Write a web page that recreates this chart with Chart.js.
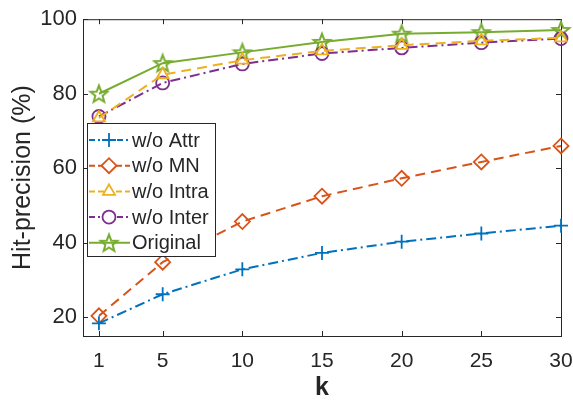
<!DOCTYPE html>
<html>
<head>
<meta charset="utf-8">
<script src="https://cdn.jsdelivr.net/npm/chart.js@4.4.1/dist/chart.umd.min.js"></script>
<style>
  html, body { margin: 0; padding: 0; background: #fff; }
  #wrap { width: 573px; height: 405px; }
</style>
</head>
<body>
<div id="wrap"><canvas id="grafico" width="573" height="405"></canvas></div>
<script>
// datos
const valoresK = [1, 5, 10, 15, 20, 25, 30];
const ticksX = [1, 5, 10, 15, 20, 25, 30];
const ticksY = [20, 40, 60, 80, 100];

const woAttr  = [18.4, 26.2, 32.9, 37.3, 40.3, 42.5, 44.6];
const woMN    = [20.4, 34.8, 45.7, 52.5, 57.3, 61.7, 66.0];
const woIntra = [73.5, 85.1, 89.0, 91.5, 93.0, 94.2, 95.0];
const woInter = [73.9, 82.9, 88.0, 90.8, 92.3, 93.7, 94.8];
const original = [80.0, 88.2, 91.1, 93.9, 96.1, 96.5, 97.1];

const colorEje = "#262626";

// estrella de 5 puntas (pentagram de matlab)
const HacerEstrella = (color) => {
  const c = document.createElement("canvas");
  c.width = 22; c.height = 22;
  const ctx = c.getContext("2d");
  ctx.strokeStyle = color;
  ctx.lineWidth = 2;
  ctx.lineJoin = "miter";
  ctx.beginPath();
  for (let i = 0; i < 10; i++) {
    const r = i % 2 === 0 ? 9 : 3.8;
    const a = -Math.PI / 2 + i * Math.PI / 5;
    const x = 11 + r * Math.cos(a);
    const y = 11.8 + r * Math.sin(a);
    if (i === 0) ctx.moveTo(x, y); else ctx.lineTo(x, y);
  }
  ctx.closePath();
  ctx.stroke();
  return c;
};

const puntos = (arr) => arr.map((v, i) => ({ x: valoresK[i], y: v }));

const serie = (label, data, color, dash, estilo, radio) => ({
  label: label,
  data: puntos(data),
  borderColor: color,
  backgroundColor: "rgba(0,0,0,0)",
  borderWidth: 2,
  borderDash: dash,
  pointStyle: estilo,
  pointRadius: radio,
  pointBorderWidth: 1.8,
  pointBorderColor: color,
  pointBackgroundColor: "rgba(0,0,0,0)",
  tension: 0,
  clip: false,
});

const datasets = [
  serie("w/o Attr", woAttr, "#0072BD", [10, 4, 2, 4], "cross", 7),
  serie("w/o MN", woMN, "#D95319", [10, 6], "rectRot", 7.5),
  serie("w/o Intra", woIntra, "#EDB120", [10, 6], "triangle", 7),
  serie("w/o Inter", woInter, "#7E2F8E", [10, 4, 2, 4], "circle", 6.5),
  serie("Original", original, "#77AC30", [], HacerEstrella("#77AC30"), 8),
];

// marco con ticks hacia adentro, como en matlab
const marco = {
  id: "marco",
  beforeDatasetsDraw(chart) {
    const { ctx, chartArea: a, scales } = chart;
    const largo = 5;
    ctx.save();
    ctx.strokeStyle = colorEje;
    ctx.lineWidth = 1;
    ctx.strokeRect(a.left + 0.5, a.top + 0.5, a.right - a.left, a.bottom - a.top);
    ctx.beginPath();
    ticksX.forEach((v) => {
      const x = Math.round(scales.x.getPixelForValue(v)) + 0.5;
      ctx.moveTo(x, a.bottom); ctx.lineTo(x, a.bottom - largo);
      ctx.moveTo(x, a.top); ctx.lineTo(x, a.top + largo);
    });
    ticksY.forEach((v) => {
      const y = Math.round(scales.y.getPixelForValue(v)) + 0.5;
      ctx.moveTo(a.left, y); ctx.lineTo(a.left + largo, y);
      ctx.moveTo(a.right, y); ctx.lineTo(a.right - largo, y);
    });
    ctx.stroke();
    ctx.restore();
  },
};

// leyenda dentro del area, a la izquierda
const leyenda = {
  id: "leyenda",
  afterDatasetsDraw(chart) {
    const { ctx, chartArea: a } = chart;
    const x0 = a.left + 4, y0 = 123, ancho = 128, alto = 133;
    const fila = 25.7;
    ctx.save();
    ctx.fillStyle = "#fff";
    ctx.fillRect(x0, y0, ancho, alto);
    ctx.strokeStyle = colorEje;
    ctx.lineWidth = 1;
    ctx.strokeRect(x0 + 0.5, y0 + 0.5, ancho, alto);
    ctx.font = "20px 'Liberation Sans', Arial, sans-serif";
    ctx.textBaseline = "middle";
    chart.data.datasets.forEach((ds, i) => {
      const y = y0 + 17 + i * fila;
      ctx.strokeStyle = ds.borderColor;
      ctx.lineWidth = 2;
      ctx.setLineDash(ds.borderDash.length ? [6, 3, 2, 3].slice(0, ds.borderDash.length) : []);
      ctx.beginPath();
      ctx.moveTo(x0 + 2, y); ctx.lineTo(x0 + 43, y);
      ctx.stroke();
      ctx.setLineDash([]);
      ctx.fillStyle = "#fff";
      ctx.strokeStyle = ds.borderColor;
      ctx.lineWidth = ds.pointBorderWidth;
      Chart.helpers.drawPoint(ctx, {
        pointStyle: ds.pointStyle,
        radius: ds.pointRadius,
        borderWidth: ds.pointBorderWidth,
        rotation: 0,
      }, x0 + 22, y);
      ctx.fillStyle = colorEje;
      ctx.fillText(ds.label, x0 + 45, y + 1);
    });
    ctx.restore();
  },
};

const fuente = "'Liberation Sans', Arial, sans-serif";

new Chart(document.querySelector("#grafico"), {
  type: "line",
  data: { datasets: datasets },
  plugins: [marco, leyenda],
  options: {
    responsive: false,
    animation: false,
    layout: { padding: { top: 13, right: 12, left: 0, bottom: 0 } },
    plugins: { legend: { display: false }, tooltip: { enabled: false } },
    scales: {
      x: {
        type: "linear",
        min: 0,
        max: 30,
        grid: { display: false, drawTicks: false },
        border: { display: false },
        afterBuildTicks: (s) => { s.ticks = ticksX.map((v) => ({ value: v })); },
        afterFit: (s) => { s.height = 69; s.paddingRight = 0; s.paddingLeft = 0; },
        ticks: {
          color: colorEje,
          padding: 13,
          maxRotation: 0,
          autoSkip: false,
          font: { family: fuente, size: 21 },
        },
        title: {
          display: true,
          text: "k",
          color: colorEje,
          padding: { top: 0, bottom: 2 },
          font: { family: fuente, size: 25, weight: "bold" },
        },
      },
      y: {
        min: 15,
        max: 100,
        grid: { display: false, drawTicks: false },
        border: { display: false },
        afterBuildTicks: (s) => { s.ticks = ticksY.map((v) => ({ value: v })); },
        afterFit: (s) => { s.width = 83; },
        ticks: {
          color: colorEje,
          padding: 6,
          autoSkip: false,
          font: { family: fuente, size: 22 },
        },
        title: {
          display: true,
          text: "Hit-precision (%)",
          color: colorEje,
          padding: { top: 8, bottom: 0 },
          font: { family: fuente, size: 25 },
        },
      },
    },
  },
});
</script>
</body>
</html>
